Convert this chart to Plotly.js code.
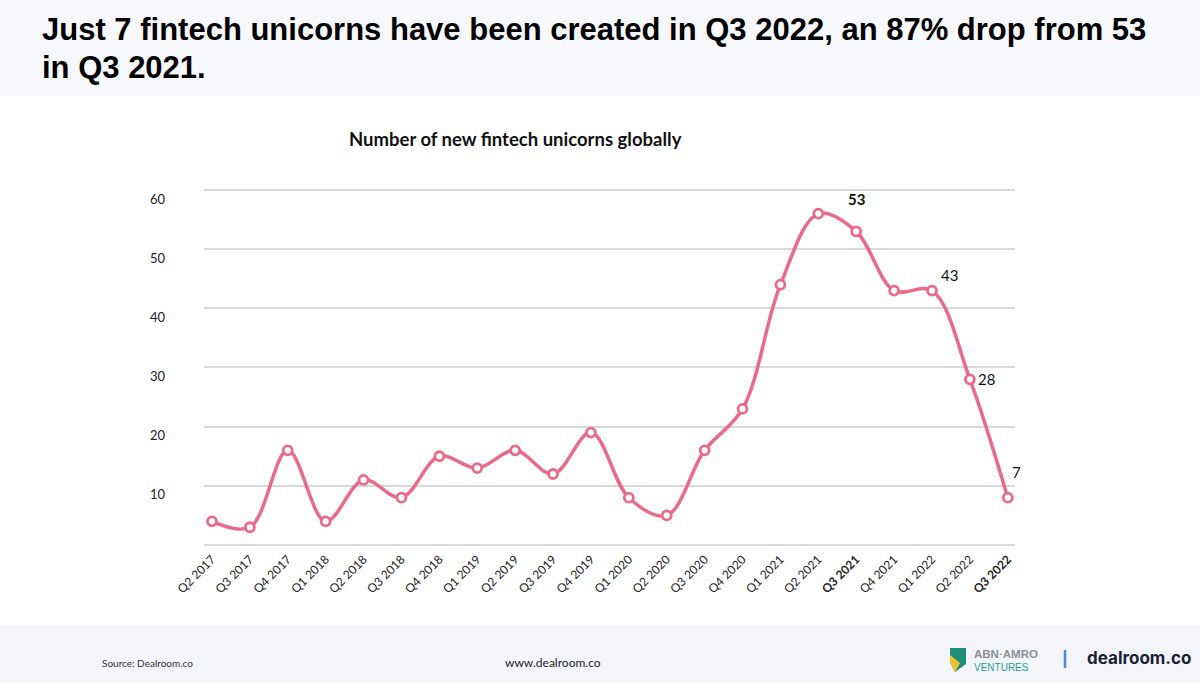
<!DOCTYPE html>
<html>
<head>
<meta charset="utf-8">
<script src="https://cdn.plot.ly/plotly-3.0.1.min.js"></script>
<style>
  html, body { margin: 0; padding: 0; background: #ffffff; }
  #chart { width: 1200px; height: 683px; }
</style>
</head>
<body>
<div id="chart"></div>
<script>
// ---- data ----
const quarters = ['Q2 2017','Q3 2017','Q4 2017','Q1 2018','Q2 2018','Q3 2018','Q4 2018',
  'Q1 2019','Q2 2019','Q3 2019','Q4 2019','Q1 2020','Q2 2020','Q3 2020','Q4 2020',
  'Q1 2021','Q2 2021','Q3 2021','Q4 2021','Q1 2022','Q2 2022','Q3 2022'];
const newUnicorns = [4, 3, 16, 4, 11, 8, 15, 13, 16, 12, 19, 8, 5, 16, 23, 44, 56, 53, 43, 43, 28, 8];
const boldQuarters = ['Q3 2021', 'Q3 2022'];
const yTickValues = [0, 10, 20, 30, 40, 50, 60];
const yTickLabels = ['', '10', '20', '30', '40', '50', '60'];
const labelQuarters = ['Q3 2021', 'Q1 2022', 'Q2 2022', 'Q3 2022'];
const labelTexts = ['<b>53</b>', '43', '28', '7'];
const labelOffsets = [[0, 32], [17, 16], [17, 0], [9, 26]];
const titleLines = ['Just 7 fintech unicorns have been created in Q3 2022, an 87% drop from 53', 'in Q3 2021.'];

const W = 1200, H = 683;
const px = v => v / W;          // page x pixel -> paper
const py = v => 1 - v / H;      // page y pixel -> paper

const tickText = quarters.map(q => boldQuarters.includes(q) ? '<b>' + q + '</b>' : q);

const pink = '#E96A8B';
const trace = {
  x: quarters,
  y: newUnicorns,
  type: 'scatter',
  mode: 'lines+markers',
  line: { color: pink, width: 3.5, shape: 'spline', smoothing: 1 },
  marker: { symbol: 'circle', size: 9, color: '#ffffff', line: { color: pink, width: 2.8 } },
  cliponaxis: false,
  hoverinfo: 'x+y'
};

const titleFont = { family: 'Liberation Sans, Arial, sans-serif', size: 31, color: '#000000' };
const annotations = [
  { xref: 'paper', yref: 'paper', x: px(40), y: py(42), xanchor: 'left', yanchor: 'bottom', yshift: -7, align: 'left',
    text: '<b>' + titleLines[0] + '</b>', showarrow: false, font: titleFont },
  { xref: 'paper', yref: 'paper', x: px(40), y: py(80), xanchor: 'left', yanchor: 'bottom', yshift: -7, align: 'left',
    text: '<b>' + titleLines[1] + '</b>', showarrow: false, font: titleFont },
  { xref: 'paper', yref: 'paper', x: px(515), y: py(139), xanchor: 'center', yanchor: 'middle',
    text: '<b>Number of new fintech unicorns globally</b>',
    showarrow: false, font: { family: 'Lato, sans-serif', size: 18.5, color: '#111111' } },
  { xref: 'paper', yref: 'paper', x: px(100), y: py(663), xanchor: 'left', yanchor: 'middle',
    text: 'Source: Dealroom.co', showarrow: false, font: { family: 'Lato, sans-serif', size: 10, color: '#333333' } },
  { xref: 'paper', yref: 'paper', x: px(553), y: py(662), xanchor: 'center', yanchor: 'middle',
    text: 'www.dealroom.co', showarrow: false, font: { family: 'Lato, sans-serif', size: 12, color: '#222222' } },
  { xref: 'paper', yref: 'paper', x: px(972), y: py(654), xanchor: 'left', yanchor: 'middle',
    text: '<b>ABN·AMRO</b>', showarrow: false, font: { family: 'Liberation Sans, sans-serif', size: 11.5, color: '#8a8f96' } },
  { xref: 'paper', yref: 'paper', x: px(972), y: py(667), xanchor: 'left', yanchor: 'middle',
    text: 'VENTURES', showarrow: false, font: { family: 'Liberation Sans, sans-serif', size: 10, color: '#2a9d8f' } },
  { xref: 'paper', yref: 'paper', x: px(1085), y: py(658), xanchor: 'left', yanchor: 'middle',
    text: '<b>dealroom.co</b>', showarrow: false, font: { family: 'Inter, sans-serif', size: 17, color: '#1a1f36' } }
];

labelQuarters.forEach((q, i) => {
  const idx = quarters.indexOf(q);
  annotations.push({
    x: q, y: newUnicorns[idx], xref: 'x', yref: 'y',
    text: labelTexts[i], showarrow: false,
    xshift: labelOffsets[i][0], yshift: labelOffsets[i][1],
    font: { family: 'Lato, sans-serif', size: 15, color: '#111111' }
  });
});

const shapes = [
  { type: 'rect', xref: 'paper', yref: 'paper', x0: 0, x1: 1, y0: py(96), y1: 1,
    fillcolor: '#f7f8fc', line: { width: 0 }, layer: 'below' },
  { type: 'rect', xref: 'paper', yref: 'paper', x0: 0, x1: 1, y0: 0, y1: py(626),
    fillcolor: '#f4f5f8', line: { width: 0 }, layer: 'below' },
  // ABN AMRO shield (green + yellow)
  { type: 'path', xref: 'paper', yref: 'paper',
    path: 'M ' + px(950) + ' ' + py(648) + ' L ' + px(966) + ' ' + py(648) +
          ' L ' + px(966) + ' ' + py(664) + ' L ' + px(955) + ' ' + py(672) +
          ' L ' + px(950) + ' ' + py(662) + ' Z',
    fillcolor: '#1f8f7a', line: { width: 0 } },
  { type: 'path', xref: 'paper', yref: 'paper',
    path: 'M ' + px(950) + ' ' + py(655) + ' L ' + px(960) + ' ' + py(663) +
          ' L ' + px(955) + ' ' + py(672) + ' L ' + px(950) + ' ' + py(662) + ' Z',
    fillcolor: '#f2c12e', line: { width: 0 } },
  { type: 'line', xref: 'paper', yref: 'paper', x0: px(1065), x1: px(1065),
    y0: py(668), y1: py(650), line: { color: '#4a8fd8', width: 2.5 } }
];

// y axis: 0 -> page y 545, 60 -> page y 190; pad range slightly so edge gridlines render
const yPad = 0.2, pxPerUnit = (545 - 190) / 60;
const layout = {
  width: W, height: H,
  paper_bgcolor: '#ffffff', plot_bgcolor: '#ffffff',
  margin: { l: 0, r: 0, t: 0, b: 0, pad: 0 },
  showlegend: false,
  xaxis: {
    type: 'category',
    domain: [px(204), px(1015)],
    range: [-0.21, 21.19],
    tickmode: 'array', tickvals: quarters, ticktext: tickText,
    tickangle: -45, showgrid: false, zeroline: false, showline: false, ticks: '',
    tickfont: { family: 'Lato, sans-serif', size: 12, color: '#222222' },
    ticklabelstandoff: 3, automargin: false
  },
  yaxis: {
    domain: [py(545 + yPad * pxPerUnit), py(190 - yPad * pxPerUnit)],
    range: [-yPad, 60 + yPad],
    tickmode: 'array', tickvals: yTickValues, ticktext: yTickLabels,
    showgrid: true, gridcolor: '#d9d9d9', gridwidth: 2,
    zeroline: false, showline: false, ticks: '',
    tickfont: { family: 'Lato, sans-serif', size: 13, color: '#222222' },
    ticklabelstandoff: 38, ticklabelshift: 9, automargin: false
  },
  annotations: annotations,
  shapes: shapes
};

Plotly.newPlot('chart', [trace], layout, { displayModeBar: false, staticPlot: true });
</script>
</body>
</html>
